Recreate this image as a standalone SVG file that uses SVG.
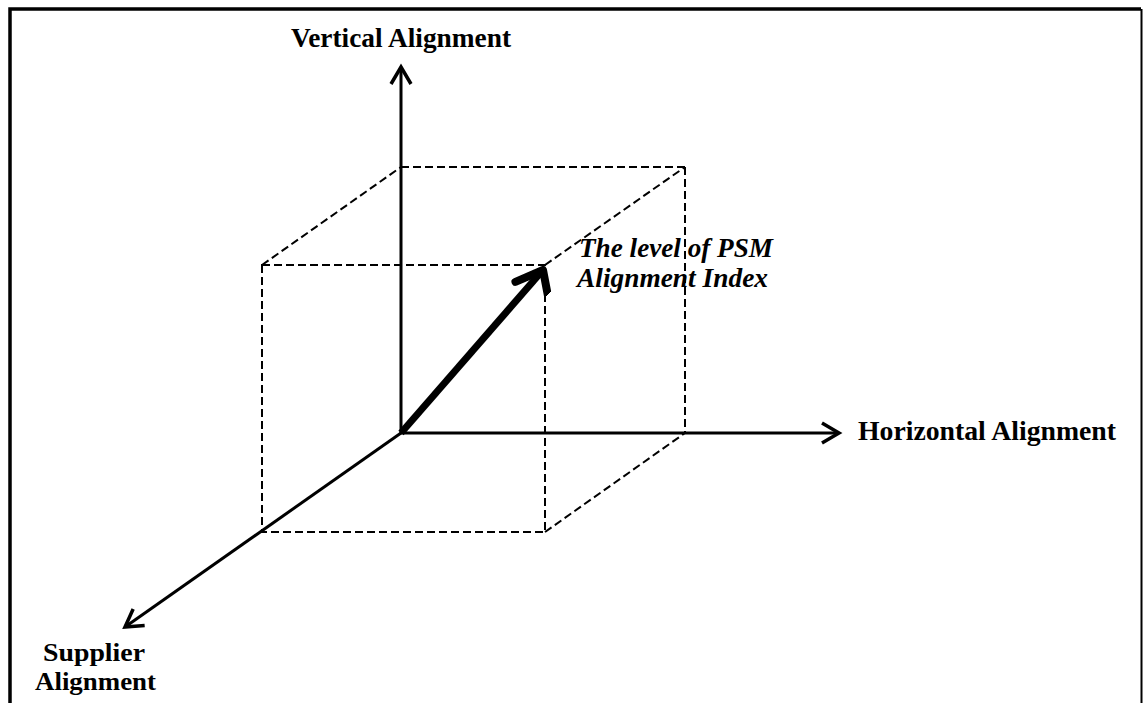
<svg xmlns="http://www.w3.org/2000/svg" width="1143" height="703" viewBox="0 0 1143 703">
<style>
.axis{stroke:#000;stroke-width:3;fill:none}
.dash{stroke:#000;stroke-width:2;fill:none;stroke-dasharray:8 4}
.lbl{font-family:"Liberation Serif","Times New Roman",serif;font-weight:bold;font-size:27px;fill:#000}
.sm{font-size:25px}
.ital{font-style:italic}
</style>
<defs>
<marker id="chev" markerUnits="userSpaceOnUse" markerWidth="30" markerHeight="30" viewBox="-20 -15 25 30" refX="0" refY="0" orient="auto">
<path d="M-17,-10 L0,0 L-17,10" fill="none" stroke="#000" stroke-width="3.5" stroke-linejoin="miter"/>
</marker>
<marker id="thick" markerUnits="userSpaceOnUse" markerWidth="40" markerHeight="40" viewBox="-30 -20 36 40" refX="0" refY="0" orient="auto">
<path d="M-27,-13 L0,0 L-18,23" fill="none" stroke="#000" stroke-width="8" stroke-linecap="round" stroke-linejoin="round"/>
</marker>
</defs>
<g id="frame">
<path d="M10,703 L10,9 L1141,9" fill="none" stroke="#000" stroke-width="3.5"/>
<line x1="1141.5" y1="9" x2="1141.5" y2="703" stroke="#000" stroke-width="2"/>
</g>
<g id="cube">
<line class="dash" x1="401" y1="167" x2="685" y2="167"/>
<line class="dash" x1="685" y1="167" x2="685" y2="433"/>
<path class="dash" d="M262,265 L545,265 L545,532 L262,532 Z"/>
<line class="dash" x1="262" y1="265" x2="401" y2="167"/>
<line class="dash" x1="545" y1="265" x2="685" y2="167"/>
<line class="dash" x1="545" y1="532" x2="685" y2="433"/>
</g>
<g id="connectors">
<line class="axis" x1="401" y1="433" x2="401" y2="67" marker-end="url(#chev)"/>
<line class="axis" x1="401" y1="433" x2="839" y2="433" marker-end="url(#chev)"/>
<line class="axis" x1="401" y1="433" x2="125" y2="627" marker-end="url(#chev)"/>
<line x1="401" y1="433" x2="543" y2="270" stroke="#000" stroke-width="7" marker-end="url(#thick)"/>
</g>
<g id="vertical-label"><text class="lbl" x="291" y="47" textLength="220" lengthAdjust="spacingAndGlyphs">Vertical Alignment</text></g>
<g id="horizontal-label"><text class="lbl" x="858" y="440" textLength="258" lengthAdjust="spacingAndGlyphs">Horizontal Alignment</text></g>
<g id="supplier-label"><text class="lbl sm" x="43" y="661" textLength="102" lengthAdjust="spacingAndGlyphs">Supplier</text><text class="lbl sm" x="35" y="690" textLength="121" lengthAdjust="spacingAndGlyphs">Alignment</text></g>
<g id="psm-label"><text class="lbl ital" x="579" y="257" textLength="194" lengthAdjust="spacingAndGlyphs">The level of PSM</text><text class="lbl ital" x="577" y="287" textLength="191" lengthAdjust="spacingAndGlyphs">Alignment Index</text></g>
</svg>
